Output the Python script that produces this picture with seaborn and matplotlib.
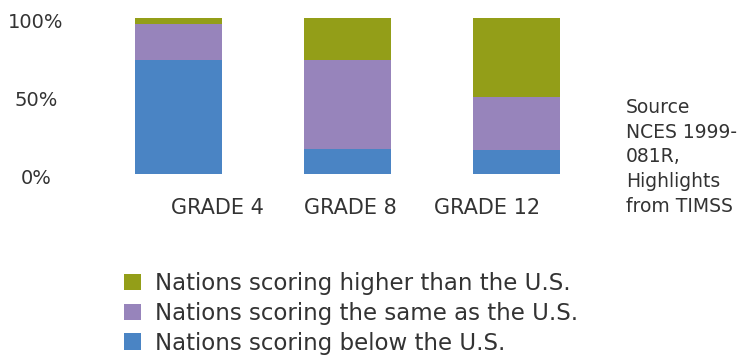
import matplotlib
matplotlib.use("Agg")
import matplotlib.pyplot as plt
import matplotlib.transforms as mtransforms
import seaborn as sns
import pandas as pd

grades = ["GRADE 4", "GRADE 8", "GRADE 12"]
below = [73.1, 16.0, 15.4]
same = [23.1, 57.1, 33.8]
higher = [3.8, 26.9, 50.8]
series_labels = ["Nations scoring higher than the U.S.",
                 "Nations scoring the same as the U.S.",
                 "Nations scoring below the U.S."]
y_ticks = [0, 50, 100]
y_ticklabels = ["0%", "50%", "100%"]
source_text = "Source\nNCES 1999-\n081R,\nHighlights\nfrom TIMSS"

c_blue = "#4a84c4"
c_purple = "#9784bb"
c_green = "#939e18"

sns.set_theme(style="white")
plt.rcParams["font.family"] = ["DejaVu Sans"]
text_color = "#333333"

df = pd.DataFrame({"grade": grades, "below": below, "same": same, "higher": higher})
df["cum_same"] = df["below"] + df["same"]
df["cum_higher"] = df["cum_same"] + df["higher"]

fig = plt.figure(figsize=(7.53, 3.56), dpi=100)
W, H = 753, 356
ax_left, ax_right, ax_bottom, ax_top = 100, 600, 174, 18
ax = fig.add_axes([ax_left / W, 1 - ax_bottom / H, (ax_right - ax_left) / W, (ax_bottom - ax_top) / H])

bw = 87 / 169
sns.barplot(data=df, x="grade", y="cum_higher", color=c_green, width=bw, ax=ax,
            saturation=1, label=series_labels[0])
sns.barplot(data=df, x="grade", y="cum_same", color=c_purple, width=bw, ax=ax,
            saturation=1, label=series_labels[1])
sns.barplot(data=df, x="grade", y="below", color=c_blue, width=bw, ax=ax,
            saturation=1, label=series_labels[2])
for p in ax.patches:
    p.set_linewidth(0)

px = 169
ax.set_xlim(-(178.5 - ax_left) / px, 2 + (ax_right - 516.5) / px)
ax.set_ylim(0, 100)
ax.set_xlabel("")
ax.set_ylabel("")
for s in ax.spines.values():
    s.set_visible(False)

ax.set_yticks(y_ticks)
ax.set_yticklabels(y_ticklabels, fontsize=14, color=text_color)
ax.tick_params(axis="y", length=0, pad=(ax_left - 36) / 1.389)
for lab in ax.get_yticklabels():
    lab.set_horizontalalignment("center")
    lab.set_transform(lab.get_transform() + mtransforms.ScaledTranslation(0, -0.03, fig.dpi_scale_trans))

ax.set_xticks(range(len(grades)))
ax.set_xticklabels(grades, fontsize=15, color=text_color)
ax.tick_params(axis="x", length=0, pad=24 / 1.389)
offsets = [38.5, 2.5, -29.5]
for lab, dx in zip(ax.get_xticklabels(), offsets):
    lab.set_transform(lab.get_transform() + mtransforms.ScaledTranslation(dx / 100, 0, fig.dpi_scale_trans))

leg = ax.get_legend()
if leg is not None:
    leg.remove()
handles, labels = ax.get_legend_handles_labels()
fig.legend(handles, labels, loc="upper left", bbox_to_anchor=(124 / W, 1 - 272 / H),
           frameon=False, fontsize=16.5, handlelength=0.74, handleheight=0.74,
           handletextpad=0.6, labelspacing=0.3, borderpad=0, borderaxespad=0,
           labelcolor=text_color)

fig.text(626 / W, 1 - 157 / H, source_text, fontsize=13.5, color=text_color,
         ha="left", va="center", linespacing=1.38)

fig.savefig("out.png", dpi=100)
